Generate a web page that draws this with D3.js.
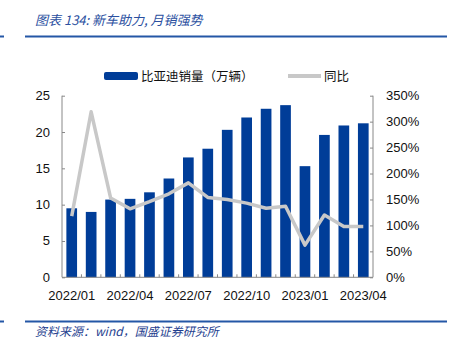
<!DOCTYPE html>
<html><head><meta charset="utf-8">
<script src="https://cdn.jsdelivr.net/npm/d3@7/dist/d3.min.js"></script>
<style>body{margin:0;background:#fff;}svg{display:block;}</style>
</head><body>
<svg id="c" width="449" height="352"></svg>
<script>
const months = ["2022/01","2022/02","2022/03","2022/04","2022/05","2022/06","2022/07","2022/08","2022/09","2022/10","2022/11","2022/12","2023/01","2023/02","2023/03","2023/04"];
const sales = [9.5,9.0,10.7,10.8,11.7,13.6,16.5,17.7,20.3,22.0,23.2,23.7,15.3,19.6,20.9,21.2];
const yoy = [118,319,153,132,146,161,182,154,150,143,133,137,62,120,98,98];
const leftTicks = [0,5,10,15,20,25];
const rightTicks = [0,50,100,150,200,250,300,350];
const tickLabels = ["2022/01","2022/04","2022/07","2022/10","2023/01","2023/04"];

const svg = d3.select("#c");
const font = "'Liberation Sans', 'Noto Sans CJK SC', sans-serif";
const blue = "#003d98";
const x0 = 62, x1 = 373, yTop = 95.7, yBot = 277.3;

const x = d3.scaleBand().domain(months).range([x0, x1]).paddingInner(0.45).paddingOuter(0.225);
const xc = d3.scalePoint().domain(months).range([x0, x1]).padding(0.5);
const yL = d3.scaleLinear().domain([0,25]).range([yBot, yTop]);
const yR = d3.scaleLinear().domain([0,350]).range([yBot, yTop]);

// header
svg.append("text").attr("x",35).attr("y",25).attr("font-family","'Noto Sans CJK SC', sans-serif")
  .attr("font-size",13).attr("font-style","italic").attr("fill","#2b509f").text("图表 134: 新车助力, 月销强势");
svg.append("line").attr("x1",25).attr("x2",447).attr("y1",36.5).attr("y2",36.5).attr("stroke","#2457a6").attr("stroke-width",2);
svg.append("line").attr("x1",0).attr("x2",4).attr("y1",36.5).attr("y2",36.5).attr("stroke","#2457a6").attr("stroke-width",2);
// footer
svg.append("line").attr("x1",25).attr("x2",447).attr("y1",321.5).attr("y2",321.5).attr("stroke","#2457a6").attr("stroke-width",2);
svg.append("line").attr("x1",0).attr("x2",4).attr("y1",321.5).attr("y2",321.5).attr("stroke","#2457a6").attr("stroke-width",2);
svg.append("text").attr("x",35).attr("y",336).attr("font-family","'Noto Sans CJK SC', sans-serif")
  .attr("font-size",12).attr("font-style","italic").attr("fill","#1f3f8f").text("资料来源：wind，国盛证券研究所");

// legend
svg.append("rect").attr("x",104).attr("y",72).attr("width",34).attr("height",8).attr("rx",2).attr("fill",blue);
svg.append("text").attr("x",141).attr("y",80.5).attr("font-family","'Noto Sans CJK SC', sans-serif").attr("font-size",12.5).attr("fill","#111").text("比亚迪销量（万辆）");
svg.append("line").attr("x1",288).attr("x2",321).attr("y1",76).attr("y2",76).attr("stroke","#c8c8c8").attr("stroke-width",4);
svg.append("text").attr("x",324).attr("y",80.5).attr("font-family","'Noto Sans CJK SC', sans-serif").attr("font-size",12.5).attr("fill","#111").text("同比");

// bars
svg.append("g").selectAll("rect").data(months).join("rect")
  .attr("x", d => x(d)).attr("width", x.bandwidth())
  .attr("y", (d,i) => yL(sales[i])).attr("height", (d,i) => yBot - yL(sales[i]))
  .attr("fill", blue);

// axes
const axisColor = "#888";
const gL = svg.append("g").attr("transform",`translate(${x0},0)`)
  .call(d3.axisRight(yL).tickValues(leftTicks).tickSize(3).tickFormat(""));
const gR = svg.append("g").attr("transform",`translate(${x1},0)`)
  .call(d3.axisLeft(yR).tickValues(rightTicks).tickSize(3).tickFormat(""));
[gL,gR].forEach(g => { g.select(".domain").attr("stroke",axisColor).attr("d", `M0,${yTop}V${yBot}`); g.selectAll(".tick line").attr("stroke",axisColor); });
svg.append("line").attr("x1",x0).attr("x2",x1).attr("y1",yBot).attr("y2",yBot).attr("stroke",axisColor);
// category separator ticks
const step = x.step();
svg.append("g").selectAll("line").data(d3.range(1, months.length)).join("line")
  .attr("x1", i => x0 + i*step).attr("x2", i => x0 + i*step)
  .attr("y1", yBot).attr("y2", yBot-3).attr("stroke",axisColor);

// tick labels
svg.append("g").selectAll("text").data(leftTicks).join("text")
  .attr("x",50).attr("y", d => yL(d)+4.5).attr("text-anchor","end")
  .attr("font-family",font).attr("font-size",13).attr("fill","#111").text(d => d);
svg.append("g").selectAll("text").data(rightTicks).join("text")
  .attr("x",386).attr("y", d => yR(d)+4.5)
  .attr("font-family",font).attr("font-size",13).attr("fill","#111").text(d => d + "%");
svg.append("g").selectAll("text").data(tickLabels).join("text")
  .attr("x", d => xc(d)).attr("y",300).attr("text-anchor","middle")
  .attr("font-family",font).attr("font-size",13).attr("fill","#111").text(d => d);

// line
const line = d3.line().x((d,i) => xc(months[i])).y(d => yR(d));
svg.append("path").datum(yoy).attr("d", line).attr("fill","none")
  .attr("stroke","#c8c8c8").attr("stroke-width",3.5).attr("stroke-linejoin","round");
</script>
</body></html>
